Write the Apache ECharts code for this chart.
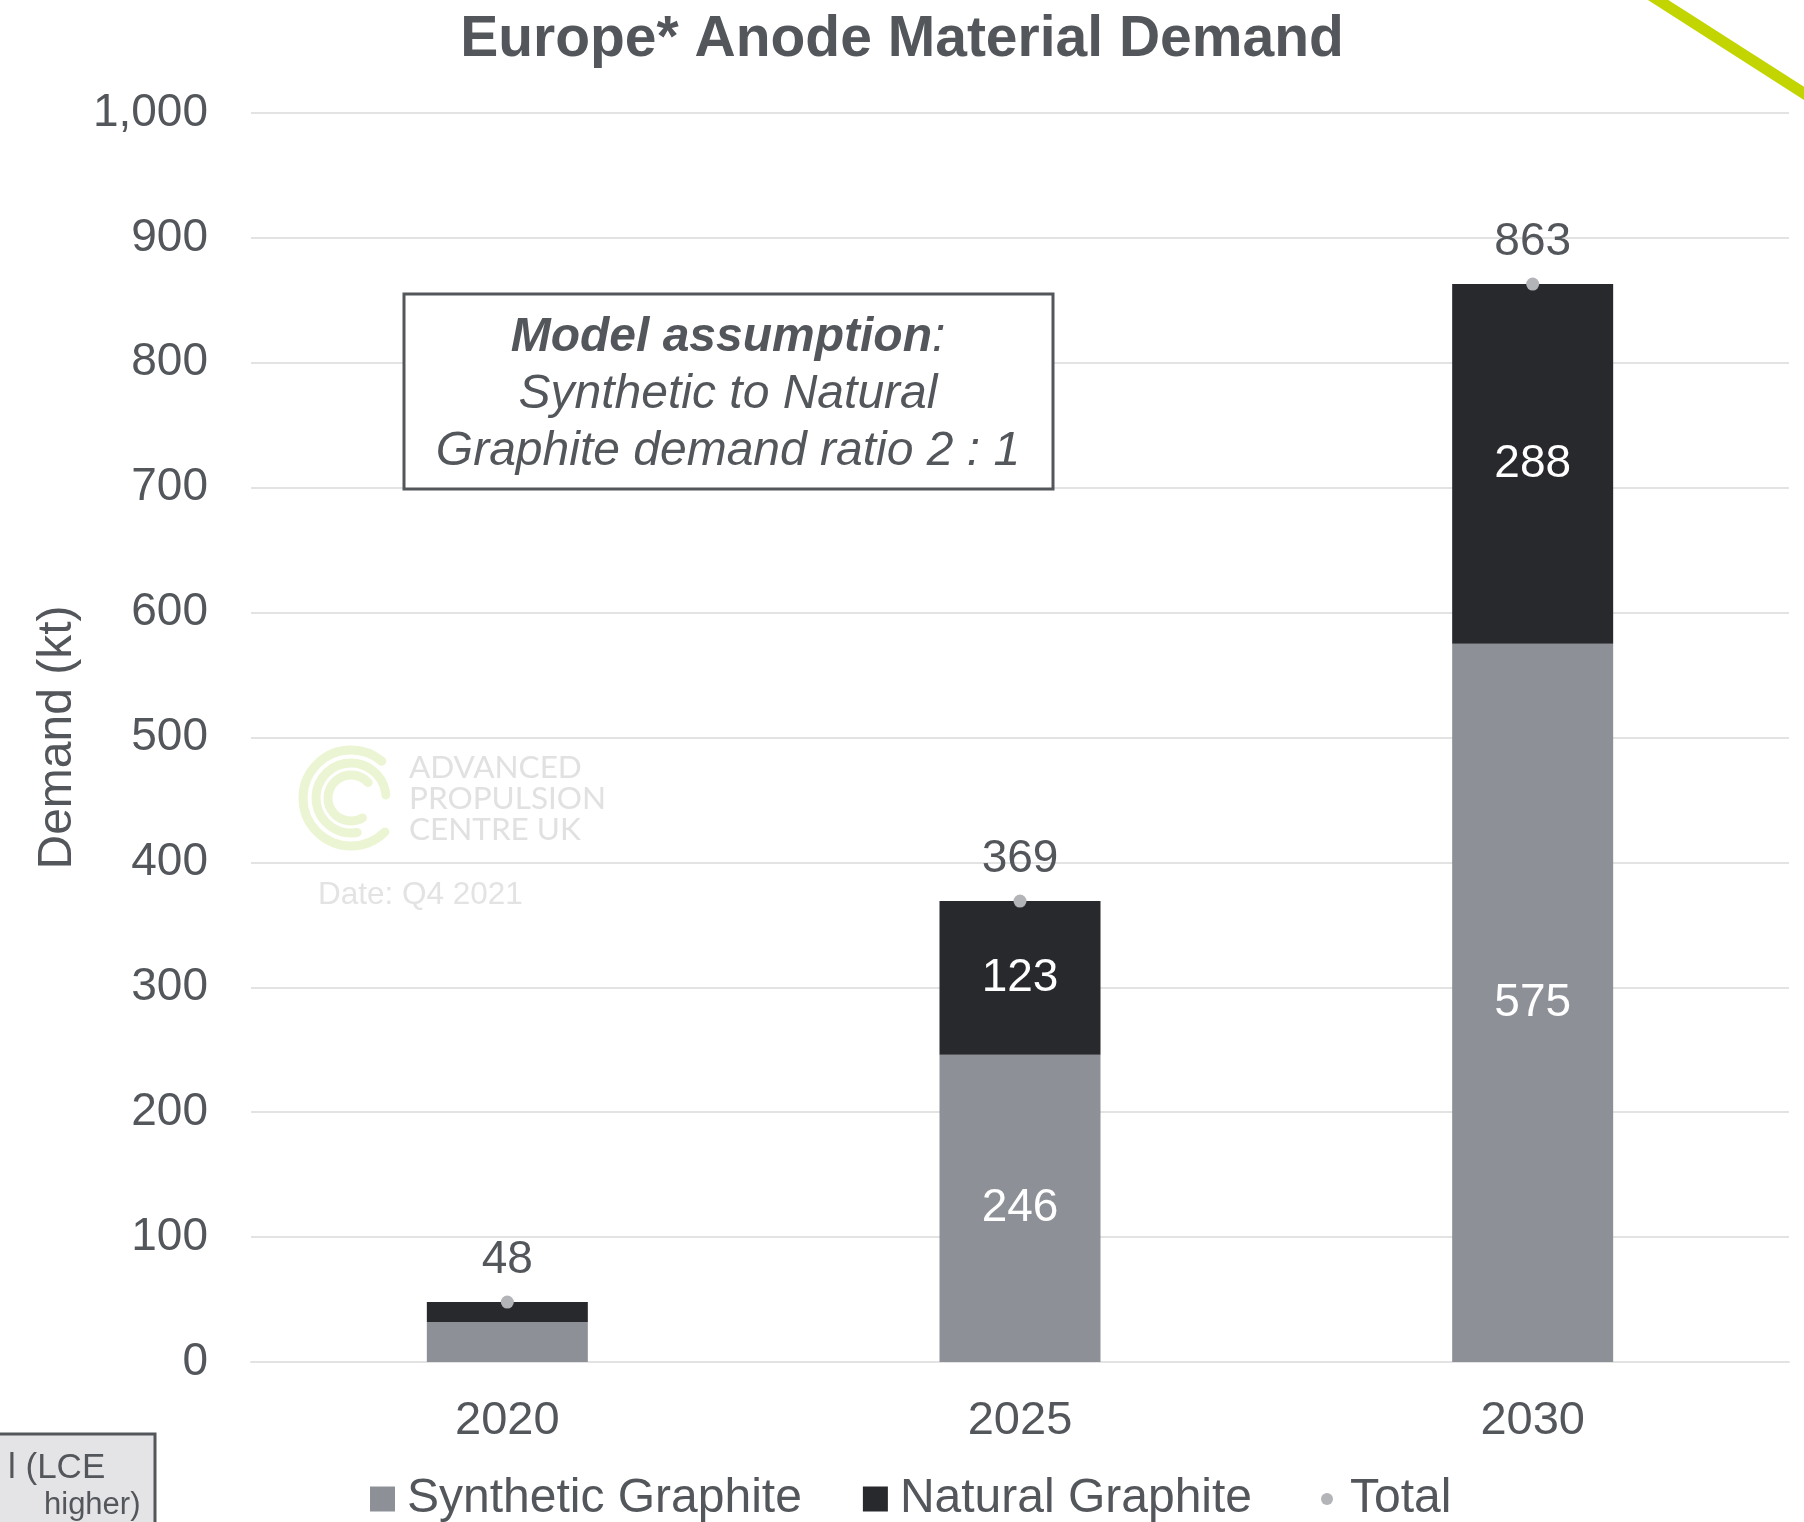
<!DOCTYPE html>
<html>
<head>
<meta charset="utf-8">
<script src="https://cdn.jsdelivr.net/npm/echarts@6/dist/echarts.min.js"></script>
<style>
html,body{margin:0;padding:0;background:#fff;}
#chart{width:1804px;height:1522px;}
</style>
</head>
<body>
<div id="chart"></div>
<script>
// ---- data ----
const categories = ['2020', '2025', '2030'];
const syntheticGraphite = [32, 246, 575];
const naturalGraphite = [16, 123, 288];
const totalDemand = [48, 369, 863];
const yTicks = { min: 0, max: 1000, interval: 100 };

const FONT = '"Liberation Sans", Arial, sans-serif';
const TEXT = '#53565a';
const GRID = '#e3e3e3';

const chart = echarts.init(document.getElementById('chart'), null, { renderer: 'canvas' });

function arcEl(r, a0deg, a1deg) {
  return {
    type: 'arc',
    shape: { cx: 351, cy: 798, r: r, startAngle: a0deg * Math.PI / 180, endAngle: a1deg * Math.PI / 180, clockwise: true },
    style: { stroke: '#ebf5d3', lineWidth: 9, fill: null, lineCap: 'round' },
    z: 0, silent: true
  };
}

const option = {
  backgroundColor: '#fff',
  animation: false,
  title: {
    text: 'Europe* Anode Material Demand',
    left: 'center',
    top: 7,
    textStyle: { fontFamily: FONT, fontSize: 57, fontWeight: 'bold', color: TEXT }
  },
  grid: { left: 251, right: 15, top: 113, bottom: 160, containLabel: false },
  legend: [
    {
      data: ['Synthetic Graphite', 'Natural Graphite'],
      left: 370, top: 1475, padding: 0,
      icon: 'rect', itemWidth: 25, itemHeight: 25, itemGap: 61,
      textStyle: { fontFamily: FONT, fontSize: 48, color: TEXT, padding: [0, 0, 0, 7] },
      selectedMode: false
    },
    {
      data: ['Total'],
      left: 1321, top: 1475, padding: 0,
      icon: 'circle', itemWidth: 12, itemHeight: 12,
      textStyle: { fontFamily: FONT, fontSize: 48, color: TEXT, padding: [0, 0, 0, 12] },
      selectedMode: false
    }
  ],
  xAxis: {
    type: 'category',
    data: categories,
    axisLine: { show: true, lineStyle: { color: GRID, width: 2 } },
    axisTick: { show: false },
    axisLabel: { fontFamily: FONT, fontSize: 47, color: TEXT, margin: 36 }
  },
  yAxis: {
    type: 'value',
    min: yTicks.min, max: yTicks.max, interval: yTicks.interval,
    name: 'Demand (kt)',
    nameLocation: 'middle',
    nameGap: 167,
    nameTextStyle: { fontFamily: FONT, fontSize: 48, color: TEXT },
    axisLine: { show: false },
    axisTick: { show: false },
    axisLabel: {
      fontFamily: FONT, fontSize: 46, color: TEXT, margin: 43,
      formatter: v => v.toLocaleString('en-US')
    },
    splitLine: { lineStyle: { color: GRID, width: 2 } }
  },
  series: [
    {
      name: 'Synthetic Graphite', type: 'bar', stack: 'total',
      data: syntheticGraphite, barWidth: 161,
      itemStyle: { color: '#8e9097' },
      label: {
        show: true, position: 'inside', color: '#fff',
        fontFamily: FONT, fontSize: 46,
        formatter: p => (p.value >= 50 ? String(p.value) : '')
      }
    },
    {
      name: 'Natural Graphite', type: 'bar', stack: 'total',
      data: naturalGraphite, barWidth: 161,
      itemStyle: { color: '#28292d' },
      label: {
        show: true, position: 'inside', color: '#fff',
        fontFamily: FONT, fontSize: 46,
        formatter: p => (p.value >= 50 ? String(p.value) : '')
      }
    },
    {
      name: 'Total', type: 'scatter',
      data: totalDemand, symbol: 'circle', symbolSize: 13,
      itemStyle: { color: '#b3b4b7', opacity: 1 },
      z: 5,
      label: {
        show: true, position: 'top', distance: 12,
        fontFamily: FONT, fontSize: 46, color: TEXT, opacity: 1
      }
    }
  ],
  graphic: [
    // green diagonal accent line (top-right)
    {
      type: 'line',
      shape: { x1: 1605, y1: -34, x2: 1830, y2: 110 },
      style: { stroke: '#c2d500', lineWidth: 11 },
      silent: true, z: 10
    },
    // watermark logo
    arcEl(48, 45, 310),
    arcEl(35, 80, 355),
    arcEl(23, 60, 318),
    {
      type: 'text', left: 409, top: 752, silent: true, z: 0,
      style: {
        text: 'ADVANCED\nPROPULSION\nCENTRE UK',
        fontFamily: 'Lato, "Open Sans", sans-serif', fontSize: 31.5, lineHeight: 31,
        fill: '#e1e1e1'
      }
    },
    {
      type: 'text', left: 318, top: 879, silent: true, z: 0,
      style: { text: 'Date: Q4 2021', fontFamily: FONT, fontSize: 31.5, fill: '#e3e3e3' }
    },
    // model assumption box
    {
      type: 'rect',
      shape: { x: 404, y: 294, width: 649, height: 195 },
      style: { fill: '#fff', stroke: TEXT, lineWidth: 3 },
      z: 20, silent: true
    },
    {
      type: 'text', z: 21, silent: true,
      x: 728, y: 395,
      style: {
        text: '{b|Model assumption}{i|:}\n{i|Synthetic to Natural}\n{i|Graphite demand ratio 2 : 1}',
        align: 'center', verticalAlign: 'middle',
        rich: {
          b: { fontFamily: FONT, fontSize: 48, fontStyle: 'italic', fontWeight: 'bold', fill: TEXT, lineHeight: 57 },
          i: { fontFamily: FONT, fontSize: 48, fontStyle: 'italic', fill: TEXT, lineHeight: 57 }
        }
      }
    },
    // partial box at bottom-left
    {
      type: 'rect',
      shape: { x: -10, y: 1434, width: 165, height: 120 },
      style: { fill: '#e4e4e6', stroke: TEXT, lineWidth: 3 },
      z: 20, silent: true
    },
    {
      type: 'text', z: 21, silent: true, x: 8, y: 1468,
      style: { text: 'l (LCE', fontFamily: FONT, fontSize: 35, fill: TEXT, verticalAlign: 'middle' }
    },
    {
      type: 'text', z: 21, silent: true, x: 44, y: 1505,
      style: { text: 'higher)', fontFamily: FONT, fontSize: 31, fill: TEXT, verticalAlign: 'middle' }
    }
  ]
};

chart.setOption(option);
</script>
</body>
</html>
